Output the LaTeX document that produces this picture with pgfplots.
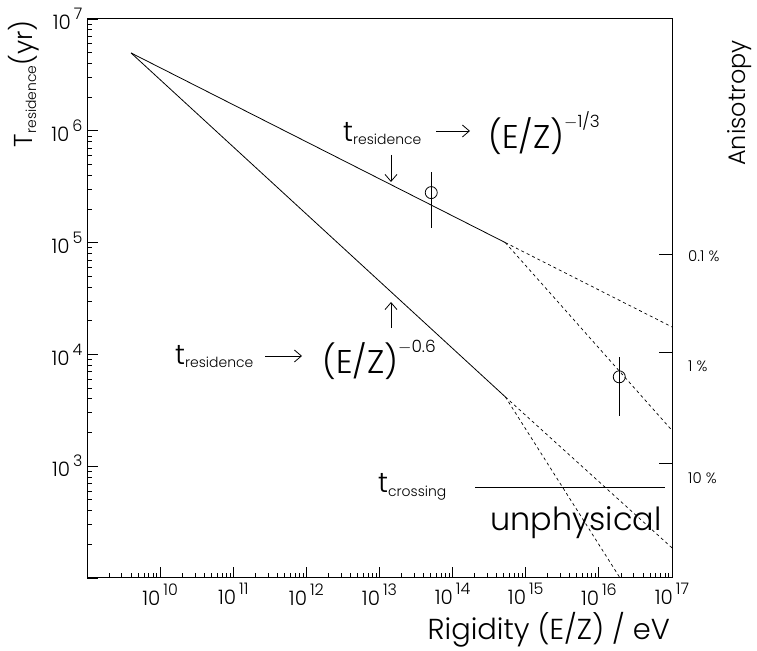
\documentclass[border=0pt]{standalone}
\usepackage{pgfplots}
\pgfplotsset{compat=1.18}
\usepackage{fontspec}
\setmainfont{Poppins}[UprightFont=* Light]
\usetikzlibrary{arrows.meta}

% tick label: 10 with a raised exponent
\newcommand{\tl}[1]{{\fontsize{20}{20}\selectfont 10\hspace{3bp}\raisebox{10bp}{\fontsize{16}{16}\selectfont #1}}}
\newcommand{\tsub}[1]{{\fontsize{28}{28}\selectfont t}\raisebox{-3bp}{\fontsize{14}{14}\selectfont #1}}

\begin{document}
\begin{tikzpicture}
\begin{axis}[
    name=ax,
    width=585bp, height=559bp, scale only axis,
    xmode=log, ymode=log,
    xmin=1e9, xmax=1e17, ymin=1e2, ymax=1e7,
    xtick={1e9,1e10,1e11,1e12,1e13,1e14,1e15,1e16,1e17},
    xticklabels={,\tl{10},\tl{11},\tl{12},\tl{13},\tl{14},\tl{15},\tl{16},\tl{17}},
    ytick={1e2,1e3,1e4,1e5,1e6,1e7},
    yticklabels={,\tl{3},\tl{4},\tl{5},\tl{6},\tl{7}},
    xtick pos=bottom, ytick pos=left,
    tick align=inside,
    major tick length=11bp, minor tick length=5bp,
    every tick/.style={black, line width=0.8bp},
    axis line style={line width=1bp},
    xticklabel style={yshift=-2bp},
    yticklabel style={xshift=-1bp},
]
\addplot[black, line width=0.8bp] coordinates {(4.0e9,4.97e6) (5.25e14,1.0e5)};
\addplot[black, line width=0.8bp] coordinates {(4.0e9,4.97e6) (5.25e14,4.17e3)};
\addplot[black, line width=0.7bp, dash pattern=on 3bp off 3bp] coordinates {(5.25e14,1.0e5) (1e17,1.76e4)};
\addplot[black, line width=0.7bp, dash pattern=on 3bp off 3bp] coordinates {(5.25e14,1.0e5) (1e17,2.09e3)};
\addplot[black, line width=0.7bp, dash pattern=on 3bp off 3bp] coordinates {(5.25e14,4.17e3) (1e17,186)};
\addplot[black, line width=0.7bp, dash pattern=on 3bp off 3bp] coordinates {(5.25e14,4.17e3) (1.95e16,100)};
\addplot[black, line width=0.8bp] coordinates {(2.03e14,652) (8.07e16,652)};
\addplot[black, line width=0.8bp, only marks, mark=o, mark size=6bp,
    mark options={fill=white, line width=0.8bp},
    error bars/.cd, y dir=both, y explicit, error mark=none,
    error bar style={line width=0.8bp}]
    coordinates {
    (5.1e13,2.8e5) += (0,1.47e5) -= (0,1.45e5)
    (1.9e16,6.3e3) += (0,3.25e3) -= (0,3.5e3)
    };
\end{axis}
\begin{axis}[
    width=585bp, height=559bp, scale only axis,
    xmode=log, ymode=log,
    xmin=1e9, xmax=1e17, ymin=1e2, ymax=1e7,
    hide x axis, axis y line*=right,
    ytick={79070,10500,1069}, yticklabels={},
    minor ytick={}, tick align=inside,
    major tick length=13bp,
    every tick/.style={black, line width=0.8bp},
    axis line style={line width=1bp},
]
\end{axis}
\begin{scope}[shift={(ax.south west)}, x=1bp, y=1bp]
  \node[anchor=base west, inner sep=0pt] at (256,436) {\tsub{residence}};
  \draw[line width=0.8bp, -{Straight Barb[length=7bp,width=12bp]}] (349,447) -- (383,447);
  \node[anchor=base west, inner sep=0pt] at (401,429) {{\fontsize{33}{33}\selectfont (E/Z)}\raisebox{21bp}{\fontsize{17}{17}\selectfont $-$1/3}};
  \draw[line width=0.8bp, -{Straight Barb[length=7bp,width=12bp]}] (304,423) -- (304,396);
  \draw[line width=0.8bp, -{Straight Barb[length=7bp,width=12bp]}] (304,250) -- (304,276);
  \node[anchor=base west, inner sep=0pt] at (88,214) {\tsub{residence}};
  \draw[line width=0.8bp, -{Straight Barb[length=7bp,width=12bp]}] (178,222) -- (215,222);
  \node[anchor=base west, inner sep=0pt] at (235,205) {{\fontsize{33}{33}\selectfont (E/Z)}\raisebox{21bp}{\fontsize{17}{17}\selectfont $-$0.6}};
  \node[anchor=base west, inner sep=0pt] at (291,86) {{\fontsize{28}{28}\selectfont t}\raisebox{-4bp}{\fontsize{14}{14}\selectfont crossing}};
  \node[anchor=base west, inner sep=0pt] at (403,48) {\fontsize{32}{32}\selectfont unphysical};
  \node[anchor=west, inner sep=0pt] at (601,322) {\fontsize{15}{15}\selectfont 0.1 \%};
  \node[anchor=west, inner sep=0pt] at (601,212) {\fontsize{15}{15}\selectfont 1 \%};
  \node[anchor=west, inner sep=0pt] at (601,100) {\fontsize{15}{15}\selectfont 10 \%};
  \node[anchor=base east, inner sep=0pt, rotate=90] at (-55,558) {{\fontsize{26}{26}\selectfont T}\raisebox{-4bp}{\fontsize{14}{14}\selectfont residence}{\fontsize{26}{26}\selectfont (yr)}};
  \node[anchor=base east, inner sep=0pt, rotate=90] at (658,538) {\fontsize{24}{24}\selectfont Anisotropy};
  \node[anchor=base east, inner sep=0pt] at (583,-61) {\fontsize{29}{29}\selectfont Rigidity (E/Z) / eV};
\end{scope}
\pgfresetboundingbox
\path[use as bounding box] ([shift={(-87bp,-73bp)}]ax.south west) rectangle ([shift={(85bp,19bp)}]ax.north east);
\end{tikzpicture}
\end{document}
